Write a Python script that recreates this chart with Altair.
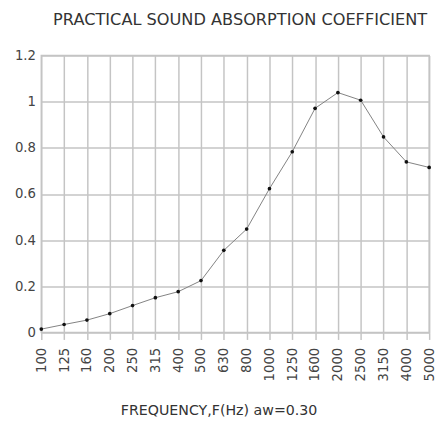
import altair as alt
import pandas as pd

freqs = ["100", "125", "160", "200", "250", "315", "400", "500", "630", "800",
         "1000", "1250", "1600", "2000", "2500", "3150", "4000", "5000"]
alpha = [0.015, 0.035, 0.054, 0.082, 0.117, 0.151, 0.177, 0.225, 0.356, 0.448,
         0.623, 0.783, 0.971, 1.039, 1.006, 0.847, 0.739, 0.715]

df = pd.DataFrame({"f": freqs, "a": alpha})

x = alt.X("f:N", sort=freqs,
          scale=alt.Scale(padding=0),
          axis=alt.Axis(title="FREQUENCY,F(Hz)  aw=0.30", labelAngle=270,
                        labelAlign="right", labelBaseline="middle",
                        labelPadding=8, tickSize=7, tickColor="#c4c4c4", tickWidth=1.5,
                        domain=False, grid=True, gridColor="#c4c4c4", gridWidth=1.5,
                        titlePadding=23, titleX=181, titleAlign="center"))
y = alt.Y("a:Q", scale=alt.Scale(domain=[0, 1.2], nice=False),
          axis=alt.Axis(title=None, values=[0, 0.2, 0.4, 0.6, 0.8, 1.0, 1.2],
                        labelExpr="datum.value == 0 ? '0' : format(datum.value, '.1~f')",
                        ticks=False, domain=False, labelPadding=6,
                        grid=True, gridColor="#c4c4c4", gridWidth=1.5))

line = alt.Chart(df).mark_line(color="#808080", strokeWidth=1).encode(x=x, y=y)
pts = alt.Chart(df).mark_point(filled=True, color="#111111", size=14, opacity=1).encode(x=x, y=y)

chart = (line + pts).properties(
    width=396, height=283,
    title=alt.TitleParams("PRACTICAL SOUND ABSORPTION COEFFICIENT", fontSize=16.5,
                          fontWeight="normal", color="#333333", font="DejaVu Sans",
                          offset=21, dx=5),
    autosize=alt.AutoSizeParams(type="none"),
    padding={"left": 34, "top": 44, "right": 8, "bottom": 92},
).configure_view(stroke="#c4c4c4", strokeWidth=1.5).configure_axis(
    labelFont="DejaVu Sans", labelFontSize=13.5, labelColor="#444444",
    titleFont="DejaVu Sans", titleFontSize=14.5, titleFontWeight="normal",
    titleColor="#333333"
)

chart.save("out.html", embed_options={"renderer": "svg", "actions": False})
